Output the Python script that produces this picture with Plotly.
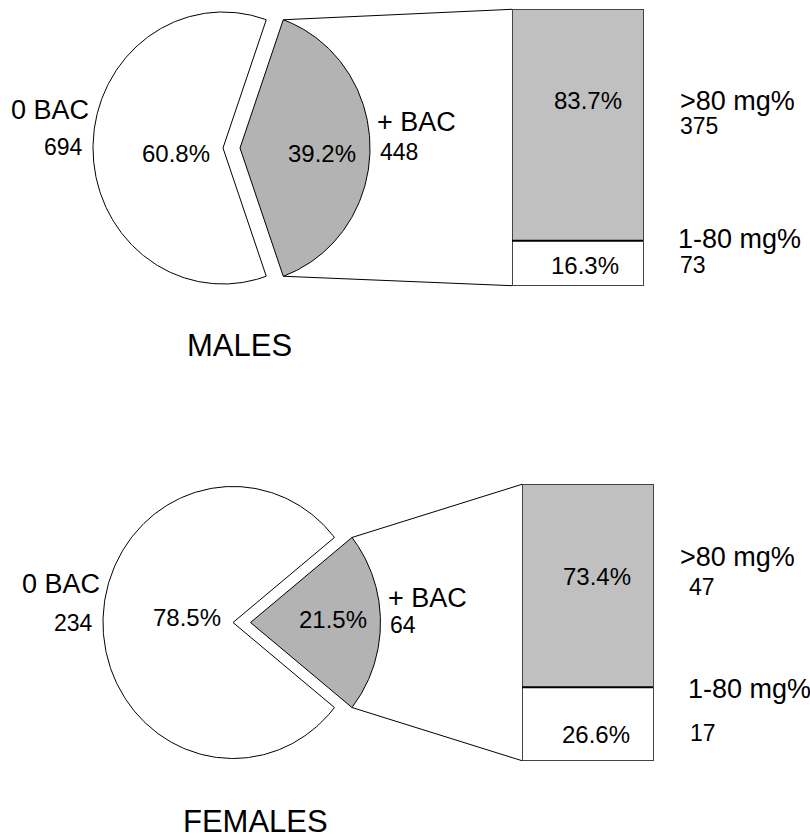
import numpy as np
import plotly.graph_objects as go

# ---------------- data ----------------
groups = ["MALES", "FEMALES"]
pie_labels = ["0 BAC", "+ BAC"]
pie_counts = {"MALES": [694, 448], "FEMALES": [234, 64]}
pie_pcts = {"MALES": [60.8, 39.2], "FEMALES": [78.5, 21.5]}
bar_labels = [">80 mg%", "1-80 mg%"]
bar_counts = {"MALES": [375, 73], "FEMALES": [47, 17]}
bar_pcts = {"MALES": [83.7, 16.3], "FEMALES": [73.4, 26.6]}

# ---------------- layout (pixel geometry) ----------------
W, H = 810, 838
FONT = "Liberation Sans, Arial, sans-serif"
PIE_GREY = "#b3b3b3"
BAR_GREY = "#c0c0c0"
BAR_EDGE = "#444444"
PAD = 3  # px of breathing room around each bar's axes so outlines are not clipped

panels = {
    "MALES": dict(cx=223, cy=148, rx=130, ry=136, ex=17,
                  bx0=512, bx1=643, by0=9.3, by1=285.7,
                  lab0=(91, 110), cnt0=(85, 147), pct0=(176, 153), pct1=(322, 153),
                  lab1=(375, 122), cnt1=(378, 152),
                  bpct=[(588, 100), (585, 265)],
                  blab=[(678, 101), (676, 239)], bcnt=[(678, 126), (678, 265)],
                  title=(239.5, 345, "center")),
    "FEMALES": dict(cx=233, cy=622.5, rx=130, ry=136, ex=17.5,
                    bx0=522, bx1=653, by0=484.3, by1=760.7,
                    lab0=(102, 584), cnt0=(95, 623), pct0=(187, 617), pct1=(333, 619),
                    lab1=(386, 598), cnt1=(388, 625),
                    bpct=[(597, 576), (596, 734)],
                    blab=[(678, 557), (686, 689)], bcnt=[(687, 587), (688, 733)],
                    title=(181, 821, "left")),
}

fig = go.Figure()
annotations = []


def ann(x, y, text, size, xanchor="center"):
    annotations.append(dict(x=x, y=y, xref="x", yref="y", text=text, showarrow=False,
                            xanchor=xanchor, yanchor="middle",
                            font=dict(family=FONT, size=size, color="black")))


for i, g in enumerate(groups):
    p = panels[g]
    cx, cy, rx, ry, ex = p["cx"], p["cy"], p["rx"], p["ry"], p["ex"]
    half = pie_pcts[g][1] / 100 * 180.0  # half angle of "+ BAC" slice (deg)

    # white slice ("0 BAC")
    t = np.radians(np.linspace(half, 360 - half, 300))
    xs = np.concatenate([[cx], cx + rx * np.cos(t), [cx]])
    ys = np.concatenate([[cy], cy - ry * np.sin(t), [cy]])
    fig.add_trace(go.Scatter(x=xs, y=ys, mode="lines", fill="toself", fillcolor="white",
                             line=dict(color="black", width=1), hoverinfo="skip",
                             showlegend=False))
    # grey exploded slice ("+ BAC")
    t = np.radians(np.linspace(-half, half, 200))
    gx0 = cx + ex
    xs = np.concatenate([[gx0], gx0 + rx * np.cos(t), [gx0]])
    ys = np.concatenate([[cy], cy - ry * np.sin(t), [cy]])
    fig.add_trace(go.Scatter(x=xs, y=ys, mode="lines", fill="toself", fillcolor=PIE_GREY,
                             line=dict(color="black", width=1), hoverinfo="skip",
                             showlegend=False))
    # connector lines
    ex_x = gx0 + rx * np.cos(np.radians(half))
    ex_dy = ry * np.sin(np.radians(half))
    fig.add_trace(go.Scatter(x=[ex_x, p["bx0"], None, ex_x, p["bx0"]],
                             y=[cy - ex_dy, p["by0"], None, cy + ex_dy, p["by1"]],
                             mode="lines", line=dict(color="black", width=1),
                             hoverinfo="skip", showlegend=False))

    # stacked bar on its own axes
    k = i + 2
    xa, ya = f"x{k}", f"y{k}"
    low, high = bar_pcts[g][1], bar_pcts[g][0]
    fig.add_trace(go.Bar(x=[0], y=[low], width=1, marker=dict(color="white",
                         line=dict(color=BAR_EDGE, width=1)),
                         xaxis=xa, yaxis=ya, hoverinfo="skip", showlegend=False))
    fig.add_trace(go.Bar(x=[0], y=[high], width=1, marker=dict(color=BAR_GREY,
                         line=dict(color=BAR_EDGE, width=1)),
                         xaxis=xa, yaxis=ya, hoverinfo="skip", showlegend=False))
    fig.add_trace(go.Scatter(x=[-0.5, 0.5], y=[low, low], mode="lines",
                             line=dict(color="black", width=2), xaxis=xa, yaxis=ya,
                             hoverinfo="skip", showlegend=False))
    bw = p["bx1"] - p["bx0"]
    bh = p["by1"] - p["by0"]
    px_x = PAD / bw
    px_y = PAD * 100.0 / bh
    fig.update_layout(**{
        f"xaxis{k}": dict(domain=[(p["bx0"] - PAD) / W, (p["bx1"] + PAD) / W],
                          range=[-0.5 - px_x, 0.5 + px_x],
                          visible=False, fixedrange=True, anchor=ya),
        f"yaxis{k}": dict(domain=[1 - (p["by1"] + PAD) / H, 1 - (p["by0"] - PAD) / H],
                          range=[-px_y, 100 + px_y],
                          visible=False, fixedrange=True, anchor=xa),
    })

    # texts
    ann(*p["lab0"], pie_labels[0], 27, "right")
    ann(*p["cnt0"], str(pie_counts[g][0]), 23, "right")
    ann(*p["pct0"], f"{pie_pcts[g][0]:.1f}%", 24)
    ann(*p["pct1"], f"{pie_pcts[g][1]:.1f}%", 24)
    ann(*p["lab1"], pie_labels[1], 27, "left")
    ann(*p["cnt1"], str(pie_counts[g][1]), 23, "left")
    for j in range(2):
        ann(*p["bpct"][j], f"{bar_pcts[g][j]:.1f}%", 24)
        ann(*p["blab"][j], bar_labels[j], 27, "left")
        ann(*p["bcnt"][j], str(bar_counts[g][j]), 23, "left")
    tx, ty, tanc = p["title"]
    ann(tx, ty, g, 31, tanc)

fig.update_layout(
    width=W, height=H, margin=dict(l=0, r=0, t=0, b=0),
    paper_bgcolor="white", plot_bgcolor="rgba(0,0,0,0)",
    barmode="stack", showlegend=False,
    xaxis=dict(domain=[0, 1], range=[0, W], visible=False, fixedrange=True),
    yaxis=dict(domain=[0, 1], range=[H, 0], visible=False, fixedrange=True),
    annotations=annotations,
)

fig.write_html("out.html", config={"displayModeBar": False},
               post_script="document.body.style.margin='0';document.body.style.overflow='hidden';")
